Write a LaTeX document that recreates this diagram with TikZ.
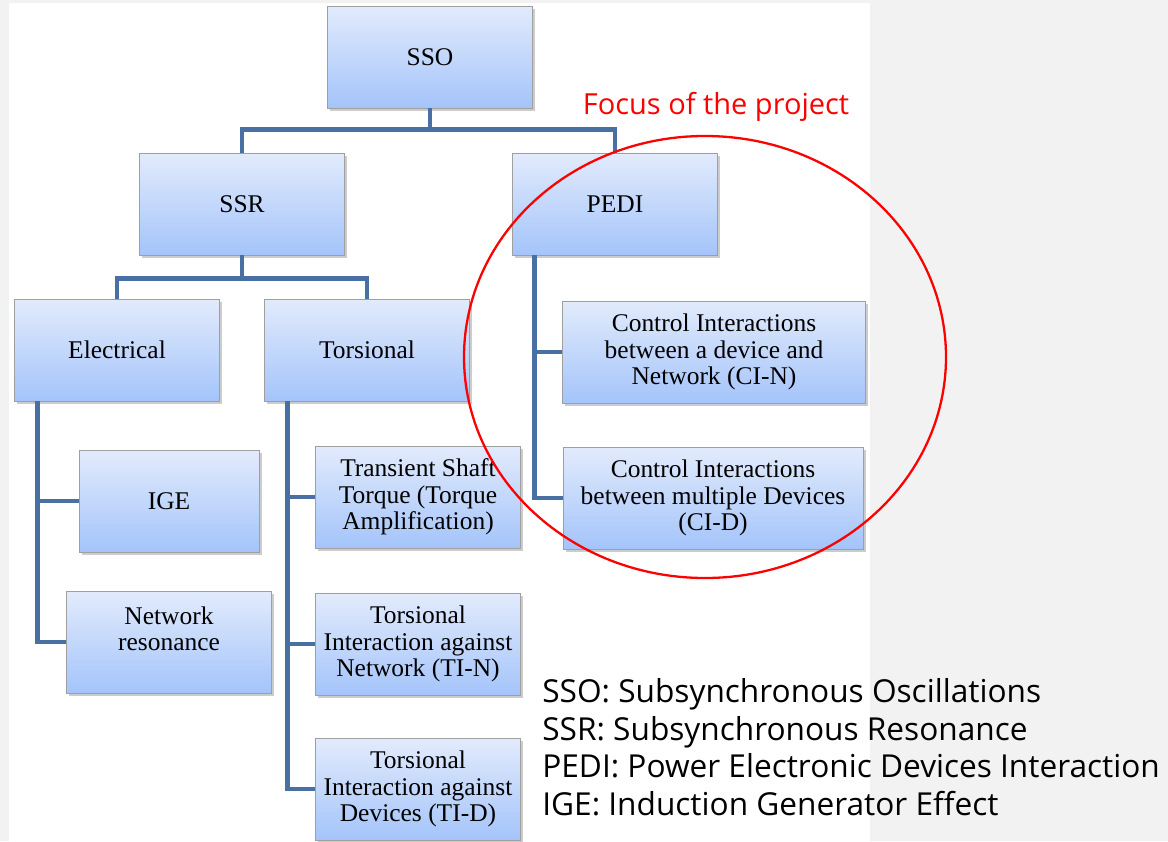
\documentclass[tikz,border=0pt]{standalone}
\usepackage{fontspec}
\setmainfont{Liberation Serif}
\newfontfamily\notefont{Open Sans}
\usetikzlibrary{calc,shadows}
\definecolor{boxtop}{RGB}{226,235,252}
\definecolor{boxbot}{RGB}{164,196,250}
\definecolor{linkblue}{RGB}{72,112,163}
\definecolor{pagegray}{RGB}{242,242,242}
\begin{document}
\begin{tikzpicture}[
x=0.02cm, y=-0.02cm,
box/.style={
draw=gray!75, top color=boxtop, bottom color=boxbot,
minimum width=4.1cm, minimum height=2.04cm, inner sep=1pt,
align=center, font=\fontsize{14.5}{15}\selectfont,
drop shadow={shadow xshift=1.5pt, shadow yshift=-1.5pt, opacity=0.4}
},
link/.style={linkblue, line width=2.8pt}
]

\fill[pagegray] (0,0) rectangle (1168,841);
\fill[white] (9,3) rectangle (870,841);

\node[box] (sso) at (430,57) {SSO};
\node[box] (ssr) at (242,204) {SSR};
\node[box] (pedi) at (615,204) {PEDI};
\node[box] (elec) at (117,350) {Electrical};
\node[box] (tors) at (367,350) {Torsional};
\node[box, minimum width=3.6cm] (ige) at (169,501) {IGE};
\node[box] (netres) at (169,642) {Network\\resonance\\~};
\node[box] (tst) at (418,497) {Transient Shaft\\Torque (Torque\\Amplification)};
\node[box] (tin) at (418,644) {Torsional\\Interaction against\\Network (TI-N)};
\node[box] (tid) at (418,789) {Torsional\\Interaction against\\Devices (TI-D)};
\node[box, minimum width=6.06cm] (cin) at (714,352) {Control Interactions\\between a device and\\Network (CI-N)};
\node[box, minimum width=6cm] (cid) at (713,498) {Control Interactions\\between multiple Devices\\(CI-D)};

\coordinate (j1) at ($(sso.south)+(0,21)$);
\draw[link] (sso.south) -- (j1) -| (ssr.north);
\draw[link] (j1) -| (pedi.north);

\coordinate (j2) at ($(ssr.south)+(0,23)$);
\draw[link] (ssr.south) -- (j2) -| (elec.north);
\draw[link] (j2) -| (tors.north);

\coordinate (e0) at ($(elec.south west)+(23,0)$);
\draw[link] (e0) |- (ige.west);
\draw[link] (e0) |- (netres.west);

\coordinate (t0) at ($(tors.south west)+(23,0)$);
\draw[link] (t0) |- (tst.west);
\draw[link] (t0) |- (tin.west);
\draw[link] (t0) |- (tid.west);

\coordinate (p0) at ($(pedi.south west)+(22,0)$);
\draw[link] (p0) |- (cin.west);
\draw[link] (p0) |- (cid.west);

\draw[red, line width=1.3pt] (705,357) ellipse [x radius=241, y radius=221];
\node[red, font=\notefont\fontsize{16.5}{20}\selectfont] (focus) at (716,107) {Focus of the project};

\node[anchor=north west, inner sep=0pt, align=left,
font=\notefont\fontsize{18}{21.5}\selectfont] (abbrev) at (542,678)
{SSO: Subsynchronous Oscillations\\
SSR: Subsynchronous Resonance\\
PEDI: Power Electronic Devices Interaction\\
IGE: Induction Generator Effect};
\end{tikzpicture}
\end{document}
